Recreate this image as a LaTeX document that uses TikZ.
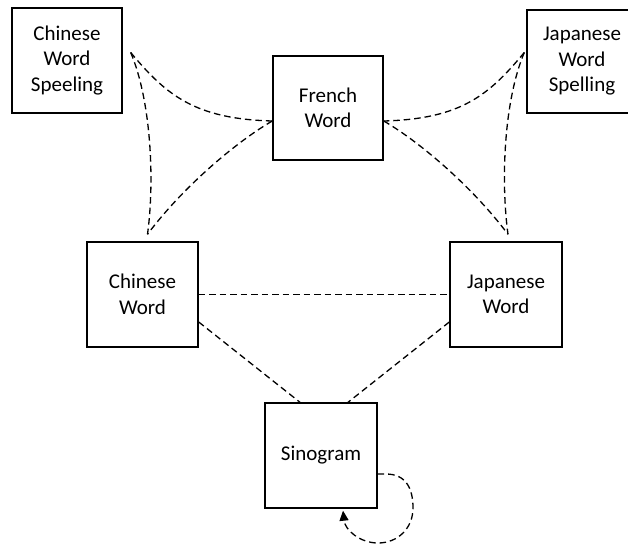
\documentclass[tikz,border=0pt]{standalone}
\usepackage{fontspec}
\setmainfont{Carlito}
\usetikzlibrary{calc,arrows.meta}
\begin{document}
\begin{tikzpicture}[x=1pt,y=-1pt,
  box/.style={draw=black,line width=1.4pt,rectangle,inner sep=0pt,align=center,
    font=\fontsize{21}{25.5}\selectfont},
  link/.style={draw=black,line width=1.3pt,dash pattern=on 6.5pt off 4pt}
]
\useasboundingbox (0,0) rectangle (628,545);
\clip (0,0) rectangle (628,545);
\fill[white] (0,0) rectangle (628,545);

\node[box,minimum width=110pt,minimum height=105pt] (cws) at (67,60.5) {Chinese\\Word\\Speeling};
\node[box,minimum width=110pt,minimum height=104pt] (fw) at (328,108) {French\\Word};
\node[box,minimum width=110pt,minimum height=103pt] (jws) at (582,61.5) {Japanese\\Word\\Spelling};
\node[box,minimum width=111pt,minimum height=105pt] (cw) at (142.5,294.5) {Chinese\\Word};
\node[box,minimum width=112pt,minimum height=105pt] (jw) at (506,294.5) {Japanese\\Word};
\node[box,minimum width=112pt,minimum height=105pt] (sino) at (321,455.5) {Sinogram};

% free ends of the curved links
\coordinate (cA) at ($(cws.east)+(8,-8)$);
\coordinate (cB) at ($(fw.west)+(0,13)$);
\coordinate (cC) at ($(cw.north)+(5,-7)$);
\coordinate (jA) at ($(jws.west)+(-2,-9)$);
\coordinate (jB) at ($(fw.east)+(0,13)$);
\coordinate (jC) at ($(jw.north)+(2,-7)$);

% left triangle
\draw[link] (cA) .. controls +(35,42) and +(-78,-2) .. (cB);
\draw[link] (cA) .. controls +(20,47) and +(7.5,-55) .. (cC);
\draw[link] (cB) .. controls +(-33,19) and +(37.5,-50) .. (cC);
% right triangle
\draw[link] (jA) .. controls +(-35,42) and +(78,-2) .. (jB);
\draw[link] (jA) .. controls +(-20,47) and +(-7.5,-55) .. (jC);
\draw[link] (jB) .. controls +(33,19) and +(-37.5,-50) .. (jC);

% straight links
\draw[link] (cw.east) -- (jw.west);
\draw[link] ($(cw.east)+(0,27.5)$) -- ($(sino.north)+(-21,0)$);
\draw[link] ($(jw.west)+(0,27.5)$) -- ($(sino.north)+(27,0)$);

% self loop
\coordinate (sS) at ($(sino.east)+(0,18.5)$);
\coordinate (sE) at ($(sino.south)+(22,2)$);
\draw[link,-{Triangle[width=9pt,length=10pt]}] (sS) -- ++(8,0)
  .. controls +(20,0) and (413,488) .. (413,508)
  .. controls (413,528) and (398,543) .. (378,543)
  .. controls (360,543) and (345,530) .. (sE);
\end{tikzpicture}
\end{document}
